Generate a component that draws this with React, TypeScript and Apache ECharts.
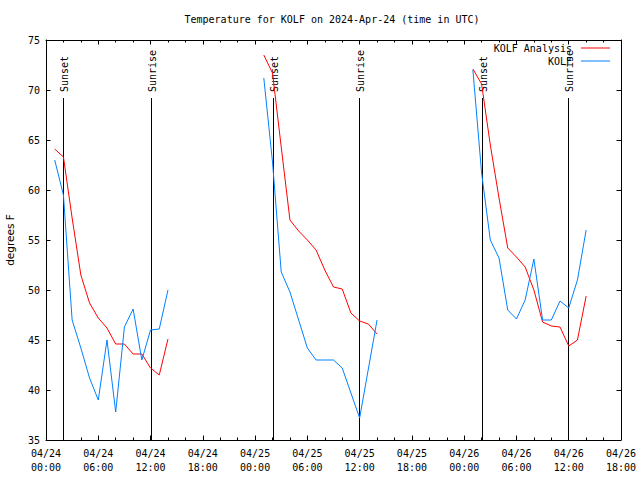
import React, { useEffect, useRef } from "react";
import * as echarts from "echarts";

// Time in hours since 2024-04-24 00:00 UTC
const hoursDay1 = [1, 2, 3, 4, 5, 6, 7, 8, 9, 10, 11, 12, 13, 14];
const hoursDay2 = [25, 26, 27, 28, 29, 30, 31, 32, 33, 34, 35, 36, 37, 38];
const hoursDay3 = [49, 50, 51, 52, 53, 54, 55, 56, 57, 58, 59, 60, 61, 62];

const analysisDay1 = [64.1, 63.3, 57.2, 51.5, 48.7, 47.2, 46.2, 44.6, 44.6, 43.6, 43.6, 42.2, 41.5, 45.1];
const analysisDay2 = [73.5, 71.7, 64.3, 57.0, 55.9, 55.0, 54.0, 52.0, 50.3, 50.1, 47.7, 46.9, 46.6, 45.6];
const analysisDay3 = [72.1, 70.6, 64.5, 59.2, 54.2, 53.3, 52.3, 50.0, 46.8, 46.4, 46.3, 44.4, 45.0, 49.4];

const obsDay1 = [63.0, 59.5, 47.0, 44.2, 41.2, 39.0, 45.0, 37.8, 46.3, 48.1, 43.0, 46.0, 46.1, 50.0];
const obsDay2 = [71.2, 62.8, 51.8, 49.8, 47.0, 44.2, 43.0, 43.0, 43.0, 42.2, 39.7, 37.2, 42.1, 47.0];
const obsDay3 = [72.0, 61.7, 55.0, 53.2, 48.0, 47.1, 49.0, 53.1, 47.0, 47.0, 48.9, 48.2, 51.0, 56.0];

const sunTimes = [2.0, 12.0, 26.1, 35.95, 50.1, 59.95];
const sunLabels = ["Sunset", "Sunrise", "Sunset", "Sunrise", "Sunset", "Sunrise"];
const SUN_LINE_TOP = 69.2;

const X_MIN = 0;
const X_MAX = 66;
const X_STEP = 6;
const Y_MIN = 35;
const Y_MAX = 75;
const Y_STEP = 5;
const MONTH = "04";
const FIRST_DAY = 24;

const TITLE = "Temperature for KOLF on 2024-Apr-24 (time in UTC)";
const NAME_ANALYSIS = "KOLF Analysis";
const NAME_OBS = "KOLF";

const MONO = "'DejaVu Sans Mono', 'Liberation Mono', monospace";
const SANS = "'DejaVu Sans', sans-serif";
const RED = "#ff0000";
const BLUE = "#0080ff";

function pairs(xs: number[], ys: number[]) {
  return xs.map((x, i) => [x, ys[i]]);
}

function fmtHour(v: number) {
  const day = FIRST_DAY + Math.floor(v / 24);
  const hh = Math.round(v % 24);
  return `${MONTH}/${day}\n${String(hh).padStart(2, "0")}:00`;
}

export default function App() {
  const ref = useRef<HTMLDivElement>(null);
  useEffect(() => {
    if (!ref.current) return;
    const chart = echarts.init(ref.current, undefined, { renderer: "svg" });
    const lineSeries = (name: string, color: string, data: number[][]) => ({
      type: "line",
      name,
      data,
      symbol: "none",
      showSymbol: false,
      lineStyle: { color, width: 1 },
      itemStyle: { color },
      z: 3,
    });
    const baseX = {
      type: "value",
      min: X_MIN,
      max: X_MAX,
      interval: X_STEP,
      splitLine: { show: false },
      axisLine: { show: true, onZero: false, lineStyle: { color: "#000", width: 1 } },
      axisTick: { show: true, inside: true, length: 4.5, lineStyle: { color: "#000" } },
      minorTick: { show: true, splitNumber: 3, length: 2.5, lineStyle: { color: "#000" } },
    };
    const baseY = {
      type: "value",
      min: Y_MIN,
      max: Y_MAX,
      interval: Y_STEP,
      splitLine: { show: false },
      axisLine: { show: true, onZero: false, lineStyle: { color: "#000", width: 1 } },
      axisTick: { show: true, inside: true, length: 4.5, lineStyle: { color: "#000" } },
    };
    const legendBase = {
      right: 30,
      padding: 0,
      align: "right",
      icon: "rect",
      itemWidth: 29,
      itemHeight: 1,
      selectedMode: false,
      textStyle: { fontFamily: MONO, fontSize: 10, color: "#000", padding: [0, 4, 0, 0] },
    };
    const option: any = {
      animation: false,
      backgroundColor: "#fff",
      title: {
        text: TITLE,
        left: 332,
        top: 14,
        padding: 0,
        textAlign: "center",
        textStyle: { fontFamily: MONO, fontSize: 10, fontWeight: "normal", color: "#000" },
      },
      legend: [
        { ...legendBase, data: [NAME_ANALYSIS], top: 43 },
        { ...legendBase, data: [NAME_OBS], top: 56 },
      ],
      grid: { left: 46, right: 19, top: 40, bottom: 40, containLabel: false, outerBoundsMode: "none" },
      xAxis: [
        {
          ...baseX,
          position: "bottom",
          axisLabel: {
            show: true,
            margin: 6,
            fontFamily: MONO,
            fontSize: 10,
            color: "#000",
            lineHeight: 14,
            formatter: (v: number) => fmtHour(v),
          },
        },
        { ...baseX, position: "top", axisLabel: { show: false } },
      ],
      yAxis: [
        {
          ...baseY,
          position: "left",
          name: "degrees F",
          nameLocation: "middle",
          nameGap: 31,
          nameRotate: 90,
          nameTextStyle: { fontFamily: SANS, fontSize: 10.5, color: "#000" },
          axisLabel: { show: true, margin: 6, fontFamily: MONO, fontSize: 10, color: "#000" },
        },
        { ...baseY, position: "right", axisLabel: { show: false } },
      ],
      series: [
        lineSeries(NAME_ANALYSIS, RED, pairs(hoursDay1, analysisDay1)),
        lineSeries(NAME_ANALYSIS, RED, pairs(hoursDay2, analysisDay2)),
        lineSeries(NAME_ANALYSIS, RED, pairs(hoursDay3, analysisDay3)),
        lineSeries(NAME_OBS, BLUE, pairs(hoursDay1, obsDay1)),
        lineSeries(NAME_OBS, BLUE, pairs(hoursDay2, obsDay2)),
        lineSeries(NAME_OBS, BLUE, pairs(hoursDay3, obsDay3)),
        {
          type: "custom",
          name: "sun",
          data: sunTimes.map((t) => [t, SUN_LINE_TOP]),
          encode: { x: 0, y: 1 },
          z: 2,
          clip: false,
          renderItem: (params: any, api: any) => {
            const t = api.value(0);
            const bottom = api.coord([t, Y_MIN]);
            const top = api.coord([t, SUN_LINE_TOP]);
            const x = Math.round(bottom[0]) + 0.5;
            return {
              type: "group",
              children: [
                {
                  type: "line",
                  shape: { x1: x, y1: bottom[1], x2: x, y2: top[1] },
                  style: { stroke: "#000", lineWidth: 1 },
                },
                {
                  type: "text",
                  x: x + 0.5,
                  y: top[1] - 6,
                  rotation: Math.PI / 2,
                  style: {
                    text: sunLabels[params.dataIndex],
                    fontFamily: MONO,
                    fontSize: 10,
                    fill: "#000",
                    align: "left",
                    verticalAlign: "middle",
                  },
                },
              ],
            };
          },
        },
      ],
    };
    chart.setOption(option);
    return () => chart.dispose();
  }, []);
  return <div ref={ref} style={{ width: 640, height: 480, position: "fixed", left: 0, top: 0 }} />;
}
